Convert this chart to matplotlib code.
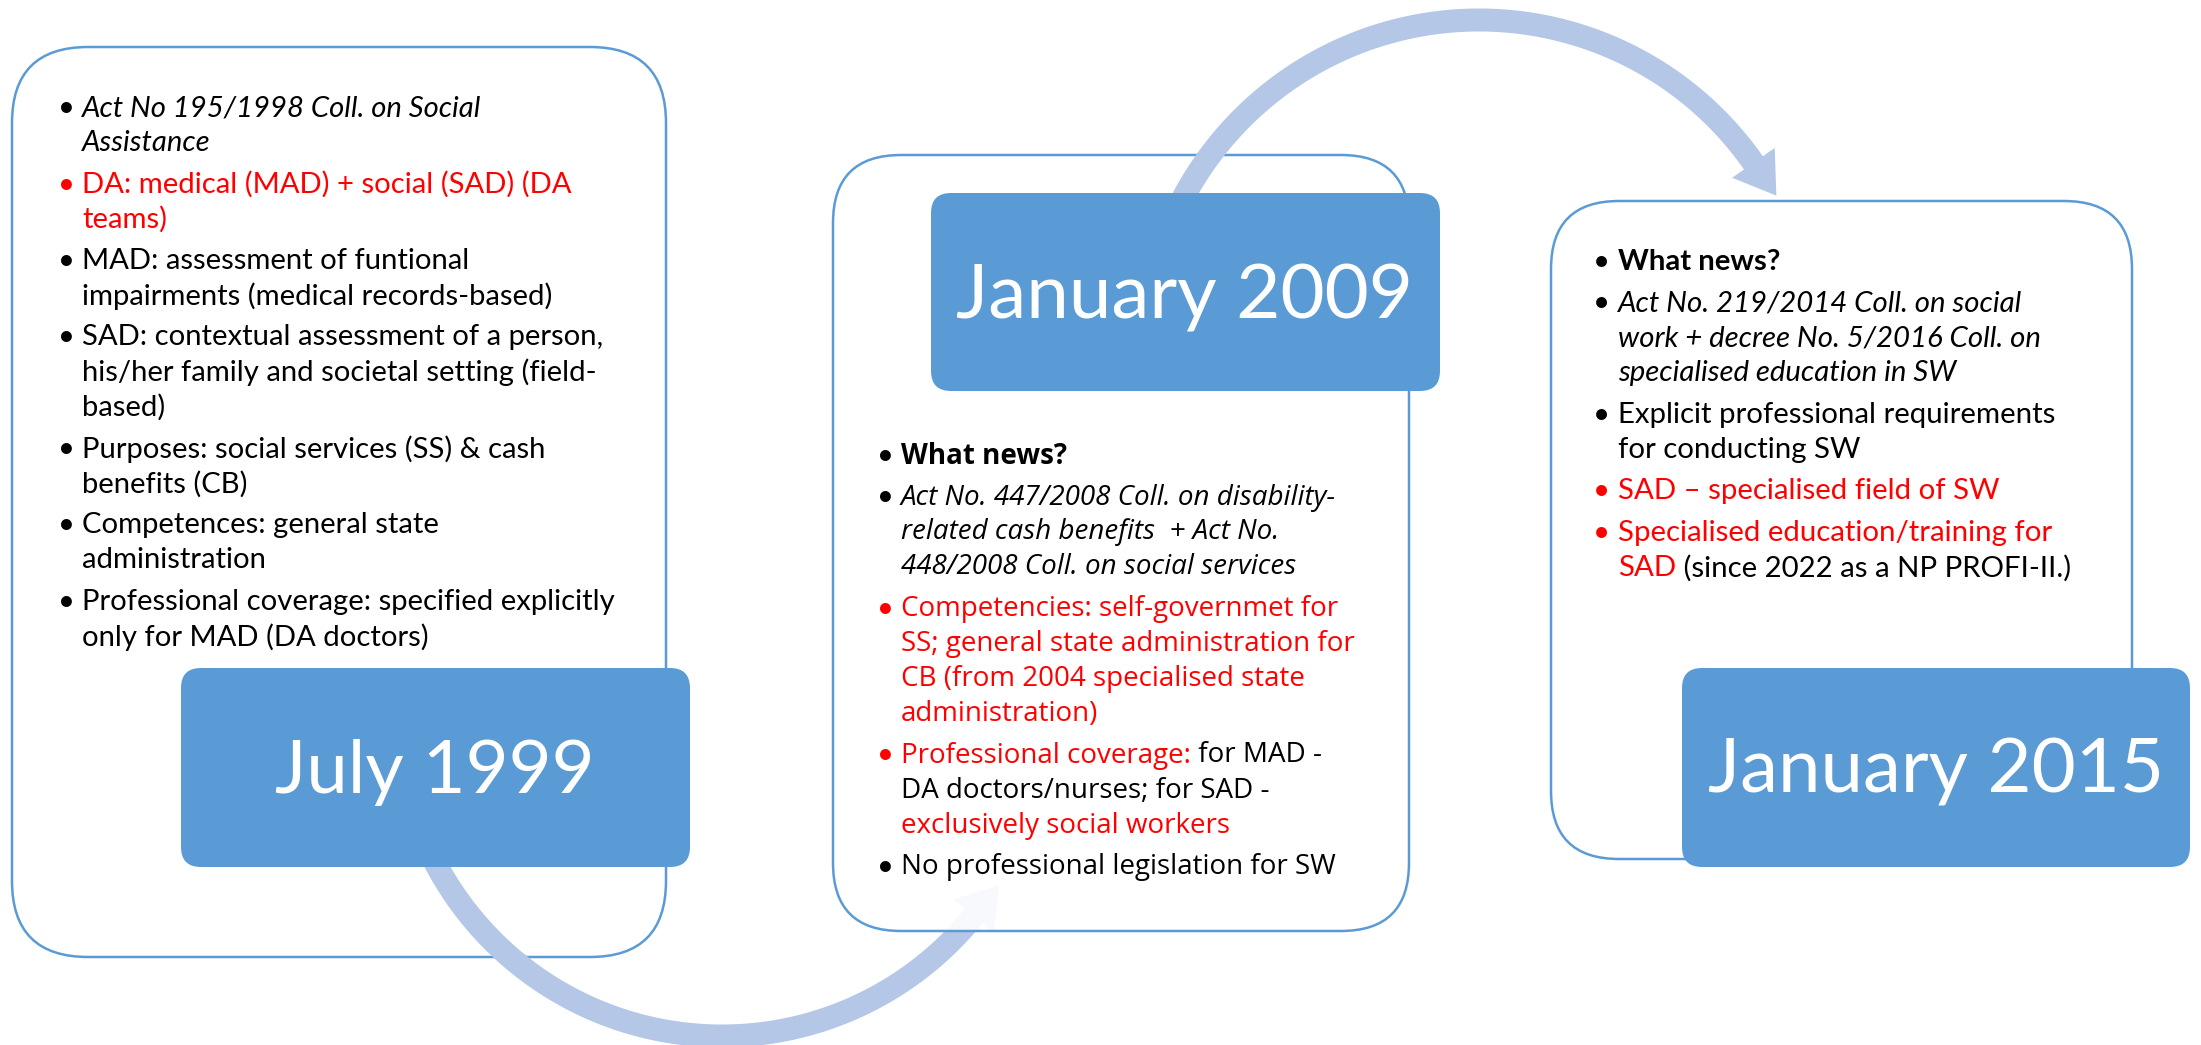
import numpy as np
import matplotlib.pyplot as plt
from matplotlib.patches import FancyBboxPatch, Polygon

W, H = 2201, 1045
EDGE = '#5B9BD5'
FILL = '#5B9BD5'
ARROW = '#B4C7E7'
K = '#000000'
R = '#FF0000'

# date labels of the three milestones
dates = ['July 1999', 'January 2009', 'January 2015']

# bullet text of each period: (style, weight, lines); a line is a list of (text, colour) runs
box1_paras = [
    ('italic', 'normal', [[('Act No 195/1998 Coll. on Social', K)], [('Assistance', K)]]),
    ('normal', 'normal', [[('DA: medical (MAD) + social (SAD) (DA', R)], [('teams)', R)]]),
    ('normal', 'normal', [[('MAD: assessment of funtional', K)],
                          [('impairments (medical records-based)', K)]]),
    ('normal', 'normal', [[('SAD: contextual assessment of a person,', K)],
                          [('his/her family and societal setting (field-', K)], [('based)', K)]]),
    ('normal', 'normal', [[('Purposes: social services (SS) & cash', K)], [('benefits (CB)', K)]]),
    ('normal', 'normal', [[('Competences: general state', K)], [('administration', K)]]),
    ('normal', 'normal', [[('Professional coverage: specified explicitly', K)],
                          [('only for MAD (DA doctors)', K)]]),
]

box2_paras = [
    ('normal', 'bold', [[('What news?', K)]]),
    ('italic', 'normal', [[('Act No. 447/2008 Coll. on disability-', K)],
                          [('related cash benefits  + Act No.', K)],
                          [('448/2008 Coll. on social services', K)]]),
    ('normal', 'normal', [[('Competencies: self-governmet for', R)],
                          [('SS; general state administration for', R)],
                          [('CB (from 2004 specialised state', R)], [('administration)', R)]]),
    ('normal', 'normal', [[('Professional coverage:', R), (' for MAD -', K)],
                          [('DA doctors/nurses; for SAD -', K)],
                          [('exclusively social workers', R)]]),
    ('normal', 'normal', [[('No professional legislation for SW', K)]]),
]

box3_paras = [
    ('normal', 'bold', [[('What news?', K)]]),
    ('italic', 'normal', [[('Act No. 219/2014 Coll. on social', K)],
                          [('work + decree No. 5/2016 Coll. on', K)],
                          [('specialised education in SW', K)]]),
    ('normal', 'normal', [[('Explicit professional requirements', K)], [('for conducting SW', K)]]),
    ('normal', 'normal', [[('SAD \u2013 specialised field of SW', R)]]),
    ('normal', 'normal', [[('Specialised education/training for', R)],
                          [('SAD', R), (' (since 2022 as a NP PROFI-II.)', K)]]),
]

fig = plt.figure(figsize=(W / 100, H / 100), dpi=100)
ax = fig.add_axes([0, 0, 1, 1])
ax.set_xlim(0, W)
ax.set_ylim(H, 0)
ax.axis('off')
renderer = fig.canvas.get_renderer()


def rbox(x0, y0, x1, y1, r, fc, ec, z, alpha=1.0):
    ax.add_patch(FancyBboxPatch((x0, y0), x1 - x0, y1 - y0,
                                boxstyle='round,pad=0,rounding_size=%g' % r,
                                fc=fc, ec=ec, lw=1.8, zorder=z, alpha=alpha))


def arc_arrow(cx, cy, r, a0, a1, width, head_len, head_half, z):
    th = np.radians(np.linspace(a0, a1, 300))
    outer = np.c_[cx + (r + width / 2) * np.cos(th), cy - (r + width / 2) * np.sin(th)]
    inner = np.c_[cx + (r - width / 2) * np.cos(th), cy - (r - width / 2) * np.sin(th)]
    t1 = np.radians(a1)
    base = np.array([cx + r * np.cos(t1), cy - r * np.sin(t1)])
    radial = np.array([np.cos(t1), -np.sin(t1)])
    d = np.sign(a1 - a0) * np.array([-np.sin(t1), -np.cos(t1)])
    pts = np.vstack([outer, base + head_half * radial, base + head_len * d,
                     base - head_half * radial, inner[::-1]])
    ax.add_patch(Polygon(pts, closed=True, fc=ARROW, ec='none', zorder=z))


def fit_size(txt, family, target, style='normal', weight='normal'):
    t = ax.text(0, 0, txt, fontsize=20, family=family, style=style, weight=weight)
    w = t.get_window_extent(renderer=renderer).width
    t.remove()
    return 20 * target / w


def draw_paras(paras, bx, tx, y0, family, size, bsize, step=35, gap=6.5):
    y = y0
    for style, weight, lines in paras:
        ax.text(bx, y, '\u2022', color=lines[0][0][1], family='Lato', fontsize=bsize,
                ha='center', va='center', zorder=10)
        for runs in lines:
            prev = None
            for txt, col in runs:
                kw = dict(color=col, family=family, fontsize=size, style=style,
                          weight=weight, va='center', ha='left', zorder=10)
                if prev is None:
                    prev = ax.text(tx, y, txt, **kw)
                else:
                    prev = ax.annotate(txt, xy=(1, 0.5), xycoords=prev, **kw)
            y += step
        y += gap


# panels and date boxes
rbox(12, 47, 666, 957, 76, 'white', EDGE, 1)
arc_arrow(722, 712, 324, 205, 321, 23, 40, 26, 2)
rbox(181, 668, 690, 867, 20, FILL, 'none', 3)
rbox(833, 155, 1409, 931, 68, 'white', 'none', 4, alpha=0.9)
rbox(833, 155, 1409, 931, 68, 'none', EDGE, 4)
arc_arrow(1479, 355, 335, 155, 35, 23, 40, 26, 5)
rbox(931, 193, 1440, 391, 20, FILL, 'none', 6)
rbox(1551, 201, 2132, 859, 68, 'white', EDGE, 4)
rbox(1682, 668, 2190, 867, 20, FILL, 'none', 6)

# date labels
CAL = 'Lato'
for lab, (cx, cy), target in zip(dates, [(435, 767), (1185, 292), (1936, 767)], [321, 458, 457]):
    ax.text(cx, cy + 26, lab, color='white', family=CAL, fontsize=fit_size(lab, CAL, target),
            ha='center', va='baseline', zorder=11)

s1 = fit_size('Professional coverage: specified explicitly', CAL, 534)
s2 = fit_size('No professional legislation for SW', 'Open Sans', 435)
s3 = fit_size('Explicit professional requirements', CAL, 439)

draw_paras(box1_paras, 66, 82, 108, CAL, s1, s1)
draw_paras(box2_paras, 885, 901, 456, 'Open Sans', s2, s1)
draw_paras(box3_paras, 1601, 1618, 262, CAL, s3, s3)

fig.savefig('out.png', dpi=100)
